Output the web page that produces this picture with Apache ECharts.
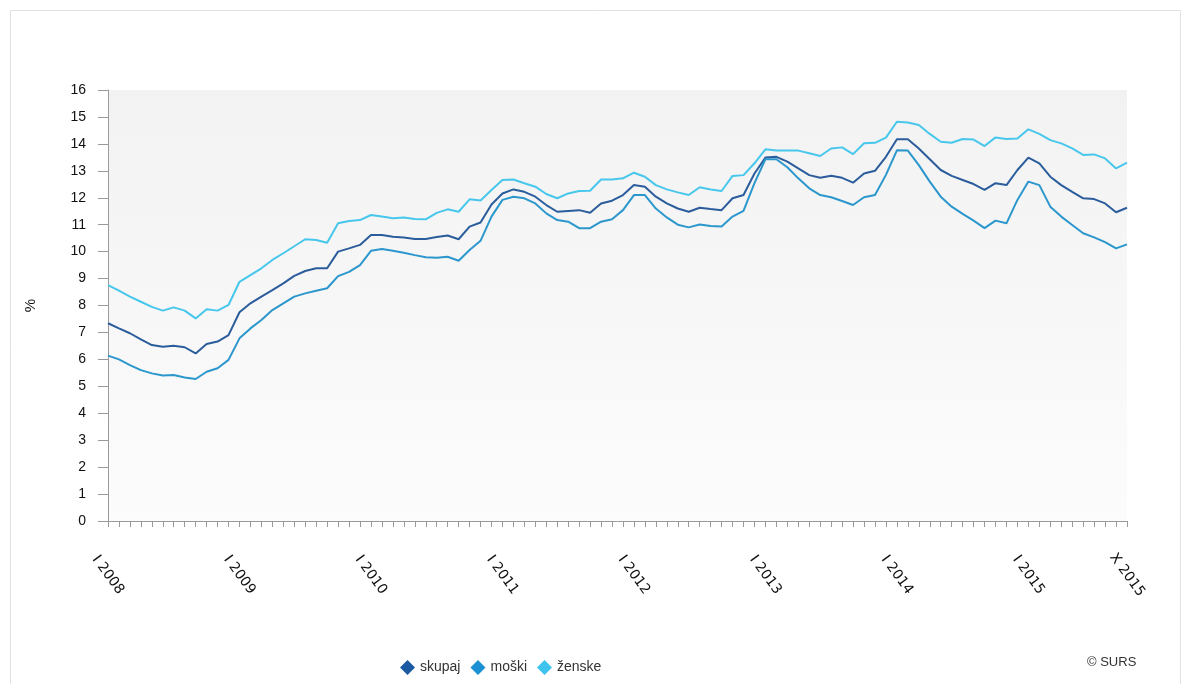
<!DOCTYPE html>
<html>
<head>
<meta charset="utf-8">
<script src="https://cdn.jsdelivr.net/npm/echarts@6/dist/echarts.min.js"></script>
<style>
html,body{margin:0;padding:0;background:#fff;}
#chart{width:1182px;height:684px;}
</style>
</head>
<body>
<div id="chart"></div>
<script>
const years = [2008, 2009, 2010, 2011, 2012, 2013, 2014, 2015];
const romanMonths = ['I','II','III','IV','V','VI','VII','VIII','IX','X','XI','XII'];
const monthCount = 94;
const categories = [];
for (const y of years) for (const m of romanMonths) if (categories.length < monthCount) categories.push(m + ' ' + y);

const seriesNames = ['skupaj', 'moški', 'ženske'];
const skupaj = [
  7.34, 7.15, 6.97, 6.74, 6.53, 6.47, 6.51, 6.45, 6.22, 6.57, 6.66, 6.9,
  7.75, 8.08, 8.33, 8.57, 8.82, 9.1, 9.28, 9.38, 9.38, 10.0, 10.12, 10.25,
  10.62, 10.62, 10.55, 10.52, 10.47, 10.47, 10.54, 10.6, 10.46, 10.93, 11.08, 11.75,
  12.16, 12.31, 12.22, 12.04, 11.73, 11.48, 11.51, 11.54, 11.44, 11.79, 11.89, 12.1,
  12.47, 12.41, 12.04, 11.79, 11.6, 11.48, 11.63, 11.58, 11.54, 11.98, 12.1, 12.9,
  13.49, 13.52, 13.34, 13.09, 12.84, 12.74, 12.82, 12.74, 12.56, 12.9, 13.0, 13.52,
  14.17, 14.17, 13.83, 13.43, 13.03, 12.81, 12.66, 12.51, 12.29, 12.54, 12.47, 13.03,
  13.49, 13.28, 12.78, 12.47, 12.22, 11.98, 11.95, 11.79, 11.46, 11.63
];
const moski = [
  6.14, 6.0, 5.79, 5.6, 5.48, 5.4, 5.42, 5.33, 5.27, 5.54, 5.67, 5.98,
  6.78, 7.15, 7.46, 7.83, 8.08, 8.33, 8.45, 8.55, 8.64, 9.09, 9.25, 9.5,
  10.03, 10.1, 10.03, 9.96, 9.87, 9.79, 9.77, 9.81, 9.66, 10.06, 10.4, 11.3,
  11.92, 12.04, 11.98, 11.79, 11.42, 11.17, 11.11, 10.87, 10.87, 11.11, 11.2, 11.54,
  12.1, 12.1, 11.6, 11.27, 11.0, 10.9, 11.01, 10.95, 10.93, 11.3, 11.51, 12.54,
  13.43, 13.43, 13.13, 12.72, 12.35, 12.1, 12.02, 11.88, 11.73, 12.02, 12.1, 12.85,
  13.76, 13.75, 13.21, 12.6, 12.04, 11.67, 11.4, 11.15, 10.87, 11.15, 11.05, 11.92,
  12.6, 12.47, 11.67, 11.3, 10.99, 10.68, 10.53, 10.35, 10.12, 10.27
];
const zenske = [
  8.76, 8.55, 8.33, 8.14, 7.95, 7.81, 7.93, 7.81, 7.52, 7.86, 7.81, 8.02,
  8.88, 9.13, 9.38, 9.69, 9.94, 10.2, 10.46, 10.43, 10.33, 11.05, 11.14, 11.17,
  11.36, 11.3, 11.24, 11.27, 11.21, 11.2, 11.44, 11.57, 11.48, 11.94, 11.9, 12.29,
  12.66, 12.68, 12.54, 12.41, 12.14, 11.98, 12.16, 12.25, 12.26, 12.68, 12.68, 12.72,
  12.93, 12.78, 12.47, 12.31, 12.2, 12.1, 12.39, 12.31, 12.25, 12.81, 12.84, 13.28,
  13.8, 13.75, 13.75, 13.75, 13.65, 13.55, 13.83, 13.87, 13.62, 14.02, 14.04, 14.23,
  14.82, 14.79, 14.7, 14.37, 14.08, 14.04, 14.18, 14.16, 13.92, 14.24, 14.18, 14.2,
  14.54, 14.37, 14.14, 14.02, 13.83, 13.59, 13.61, 13.46, 13.09, 13.3
];
const seriesData = [skupaj, moski, zenske];
const lineColors = ['#2b5d9c', '#2c97cc', '#48c7ec'];
const iconColors = ['#1b5aa2', '#1b90d2', '#3ec3ef'];

const chart = echarts.init(document.getElementById('chart'), null, {renderer: 'canvas'});
const font = 'Arial, "Liberation Sans", sans-serif';
chart.setOption({
  animation: false,
  backgroundColor: '#ffffff',
  grid: {
    left: 108, right: 55, top: 90, bottom: 163,
    show: true,
    borderWidth: 0,
    backgroundColor: {
      type: 'linear', x: 0, y: 0, x2: 0, y2: 1,
      colorStops: [{offset: 0, color: '#f2f2f2'}, {offset: 1, color: '#fcfcfc'}]
    }
  },
  legend: {
    left: 395, top: 655,
    icon: 'diamond',
    itemWidth: 15, itemHeight: 15, itemGap: 10,
    textStyle: {fontFamily: font, fontSize: 14, color: '#333'},
    data: seriesNames.map((n, i) => ({name: n, itemStyle: {color: iconColors[i]}}))
  },
  xAxis: {
    type: 'category',
    data: categories,
    boundaryGap: false,
    axisLine: {lineStyle: {color: '#9a9a9a', width: 1}},
    axisTick: {interval: 0, length: 6, lineStyle: {color: '#9a9a9a'}},
    axisLabel: {
      interval: (idx) => idx % 12 === 0 || idx === monthCount - 1,
      rotate: -54,
      align: 'center',
      verticalAlign: 'middle',
      margin: 54,
      fontFamily: '"DejaVu Sans", Verdana, sans-serif', fontSize: 14, color: '#111'
    },
    splitLine: {show: false}
  },
  yAxis: {
    type: 'value',
    min: 0, max: 16, interval: 1,
    name: '%',
    nameLocation: 'middle',
    nameRotate: 90,
    nameGap: 70,
    nameTextStyle: {fontFamily: font, fontSize: 15, color: '#111'},
    axisLine: {show: true, lineStyle: {color: '#9a9a9a', width: 1}},
    axisTick: {show: true, length: 10, lineStyle: {color: '#9a9a9a'}},
    axisLabel: {margin: 22, fontFamily: font, fontSize: 14, color: '#111'},
    splitLine: {show: false}
  },
  series: seriesNames.map((n, i) => ({
    name: n,
    type: 'line',
    data: seriesData[i],
    showSymbol: false,
    symbol: 'diamond',
    itemStyle: {color: iconColors[i]},
    lineStyle: {color: lineColors[i], width: 2},
    emphasis: {disabled: true}
  })),
  graphic: [
    {type: 'rect', shape: {x: 10.5, y: 10.5, width: 1170, height: 690}, style: {fill: null, stroke: '#e2e2e2', lineWidth: 1}, silent: true},
    {type: 'text', left: 1087, top: 656, style: {text: '© SURS', font: '13px Arial, "Liberation Sans", sans-serif', fill: '#333'}}
  ]
});
</script>
</body>
</html>
